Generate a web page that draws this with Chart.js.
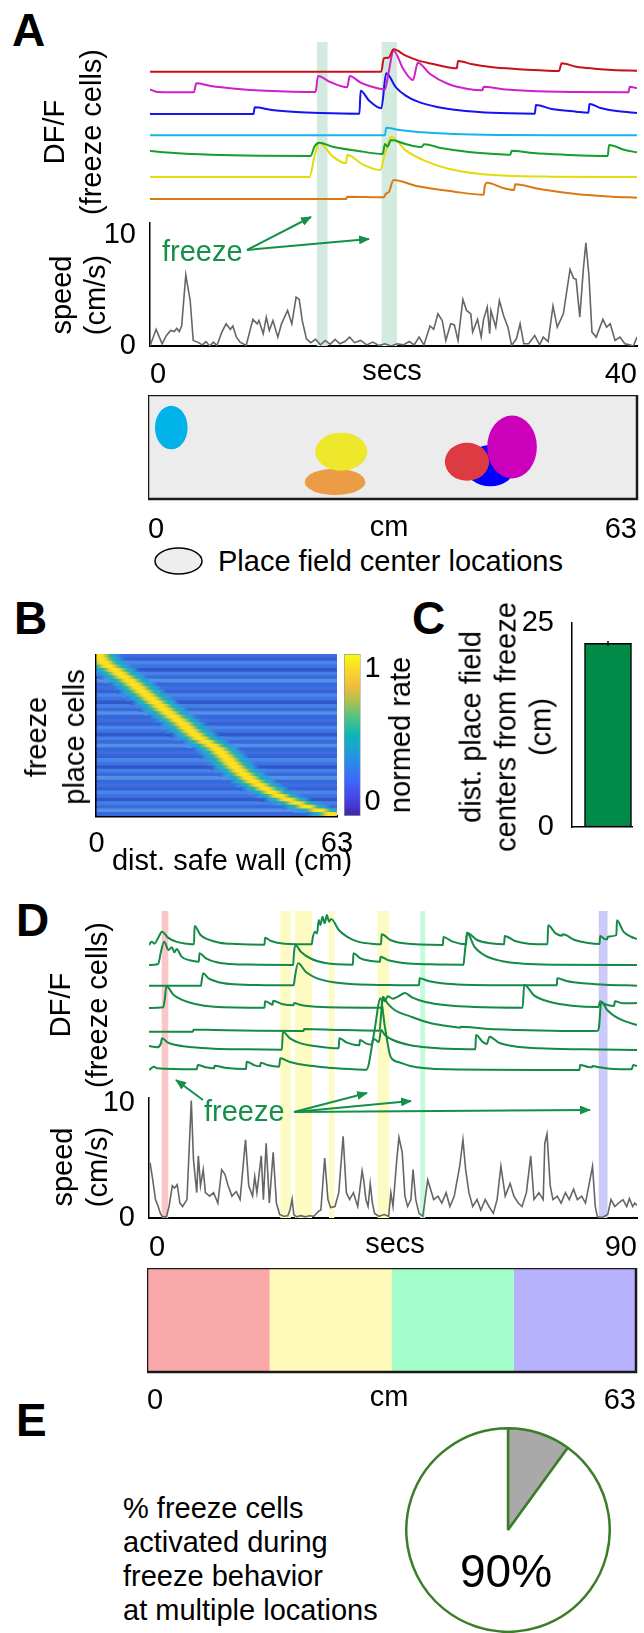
<!DOCTYPE html>
<html>
<head>
<meta charset="utf-8">
<script src="https://cdn.jsdelivr.net/npm/chart.js@4.4.0/dist/chart.umd.min.js"></script>
<style>
  html, body { margin: 0; padding: 0; background: #fff; }
  #page { position: relative; width: 644px; height: 1633px; overflow: hidden;
          font-family: "Liberation Sans", Arial, sans-serif; color: #000; }
  canvas { position: absolute; z-index: 1; }
  .t { position: absolute; z-index: 3; white-space: nowrap; font-size: 29px; line-height: 29px; }
  .c { transform: translateX(-50%); }
  .letter { position: absolute; z-index: 3; font-weight: bold; font-size: 46px; line-height: 46px; }
  .v { position: absolute; z-index: 3; white-space: nowrap; text-align: center; font-size: 29px;
       transform: translate(-50%, -50%) rotate(-90deg); }
  .green { color: #14904a; }
</style>
</head>
<body>
<div id="page">
  <div class="letter" style="left:12px;top:7px">A</div>
  <div class="letter" style="left:14px;top:595px">B</div>
  <div class="letter" style="left:412px;top:595px">C</div>
  <div class="letter" style="left:16px;top:897px">D</div>
  <div class="letter" style="left:16px;top:1397px">E</div>

  <div class="v" style="left:73px;top:132px;line-height:37px">DF/F<br>(freeze cells)</div>
  <div class="v" style="left:78px;top:295px;line-height:34px">speed<br>(cm/s)</div>
  <div class="t green" style="left:162px;top:237px">freeze</div>
  <div class="t c" style="left:392px;top:356px">secs</div>
  <div class="t c" style="left:389px;top:512px">cm</div>
  <div class="t" style="left:218px;top:547px">Place field center locations</div>

  <div class="v" style="left:55px;top:737px;line-height:38px">freeze<br>place cells</div>
  <div class="v" style="left:400px;top:735px;line-height:34px">normed rate</div>
  <div class="t c" style="left:232px;top:846px">dist. safe wall (cm)</div>
  <div class="v" style="left:506px;top:727px;line-height:35px">dist. place field<br>centers from freeze<br>(cm)</div>

  <div class="v" style="left:79px;top:1005px;line-height:37px">DF/F<br>(freeze cells)</div>
  <div class="v" style="left:80px;top:1167px;line-height:35px">speed<br>(cm/s)</div>
  <div class="t green" style="left:204px;top:1097px">freeze</div>
  <div class="t c" style="left:395px;top:1229px">secs</div>
  <div class="t c" style="left:389px;top:1382px">cm</div>

  <div class="t" style="left:123px;top:1491px;line-height:34px">% freeze cells<br>activated during<br>freeze behavior<br>at multiple locations</div>
  <div class="t c" style="left:506px;top:1548px;font-size:46px;line-height:46px">90%</div>

  <svg width="644" height="1633" style="position:absolute;left:0;top:0;pointer-events:none;z-index:5">
    <defs>
      <marker id="ah" markerWidth="11" markerHeight="9" refX="10" refY="4.5" orient="auto" markerUnits="userSpaceOnUse">
        <path d="M0,0 L11,4.5 L0,9 z" fill="#14904a"/>
      </marker>
    </defs>
    <g stroke="#14904a" stroke-width="2" fill="none" marker-end="url(#ah)">
      <line x1="247" y1="250" x2="311" y2="217"/>
      <line x1="247" y1="250" x2="369" y2="239"/>
      <line x1="203" y1="1100" x2="176" y2="1080"/>
      <line x1="294" y1="1112" x2="367" y2="1093"/>
      <line x1="294" y1="1112" x2="411" y2="1101"/>
      <line x1="294" y1="1112" x2="590" y2="1110"/>
    </g>
    <ellipse cx="178.5" cy="561" rx="23.5" ry="13" fill="#eeeeee" stroke="#000" stroke-width="1.5"/>
  </svg>
</div>

<script>
// ---------- Panel A: DF/F traces and speed (0-40 s) ----------
const freezeStartA = [13.7, 19.0];
const freezeEndA = [14.6, 20.3];
const cellColorsA = ["#c8101c", "#d21ec8", "#1414f0", "#14b4ec", "#14a028", "#e2dc0a", "#dc7814"];

const traceRedA = [[0,0],[19.0,0],[19.2,40],[19.6,42],[20.0,67],[21,48],[22,34],[23.5,21],[25.2,10],[25.3,32],[26.5,22],[28,14],[30,8],[32,4],[33.6,2],[33.8,25],[35,15],[36.5,9],[38,5],[40,3]];
const traceMagentaA = [[0,9],[0.6,1],[3.6,0],[3.8,27],[5,19],[7,11],[9.5,5],[13.6,1],[13.8,49],[14.8,31],[16.2,15],[16.4,49],[17.3,29],[18.3,16],[19.3,9],[19.6,60],[20.0,125],[20.8,70],[21.6,37],[22.0,89],[23,55],[24.5,25],[26,11],[27.3,6],[27.4,17],[29,9],[32,3],[35,1],[39.3,0],[39.4,17],[40,12]];
const traceBlueA = [[0,0],[8.5,0],[8.6,20],[10,12],[12,6],[14,3],[17.2,1],[17.3,70],[18,40],[19.0,17],[19.4,122],[20.2,80],[21,55],[22,37],[23.5,22],[25,13],[27,6],[29.5,2],[31.6,1],[31.7,27],[33,15],[35,7],[36.0,4],[36.1,30],[37,18],[38.5,8],[40,3]];
const traceCyanA = [[0,0],[19.3,0],[19.4,23],[20.5,16],[22,10],[25,4],[29,1],[33,0],[40,0]];
const traceGreenA = [[0,17],[2,11],[5,6],[9,3],[13.2,2],[13.5,30],[13.9,42],[15,30],[17,18],[19.1,8],[19.3,38],[19.5,30],[19.8,50],[21,38],[22.3,29],[22.5,37],[24,25],[26,15],[28,9],[29.6,6],[29.7,18],[31.5,11],[34,6],[37.6,2],[37.7,35],[39,20],[40,13]];
const traceYellowA = [[0,0],[13.1,0],[13.5,60],[13.9,103],[15,62],[16.1,41],[16.2,66],[17.5,37],[18.9,21],[19.3,70],[19.8,121],[21,80],[22.5,50],[24.5,25],[27,10],[30,3],[33,1],[40,0]];
const traceOrangeA = [[0,0],[16.1,0],[16.2,7],[19.2,5],[19.4,17],[19.6,20],[20.0,57],[22,38],[25,22],[27.4,13],[27.5,40],[27.7,49],[29.0,33],[29.9,27],[30.0,44],[32,30],[35,15],[38,7],[40,4]];
const tracesA = [traceRedA, traceMagentaA, traceBlueA, traceCyanA, traceGreenA, traceYellowA, traceOrangeA];

const speedA = [[0,0],[0.5,1.5],[1.0,0.2],[1.35,0.95],[1.7,1.4],[2.0,1.3],[2.2,1.6],[2.4,1.3],[2.6,1.8],[2.94,6.4],[3.3,4.1],[3.55,0.5],[3.9,0.35],[4.3,0.1],[4.6,0.4],[4.9,0.0],[5.2,0.35],[5.5,0.05],[5.9,1.25],[6.25,2.0],[6.6,1.5],[6.8,1.8],[7.1,0.8],[7.4,0.35],[7.9,0.05],[8.45,2.4],[8.8,2.0],[8.95,2.3],[9.3,1.1],[9.55,2.6],[9.8,1.4],[10.1,2.3],[10.5,0.8],[10.8,2.0],[11.3,3.2],[11.65,2.0],[12.0,4.4],[12.26,4.2],[12.5,2.3],[12.85,0.65],[13.2,0.3],[13.6,0.6],[14.0,0.1],[14.4,0.5],[14.8,0.15],[15.2,0.6],[15.6,0.2],[16.0,0.4],[16.4,0.8],[16.8,0.3],[17.3,0.5],[17.8,0.1],[18.3,0.35],[18.8,0.05],[19.3,0.2],[19.8,0.0],[20.3,0.2],[20.8,0.1],[21.3,0.4],[21.7,0.1],[22.1,0.8],[22.5,0.1],[23.0,1.8],[23.3,1.5],[23.65,2.9],[24.0,2.3],[24.3,0.5],[24.7,2.0],[25.0,1.9],[25.3,0.5],[25.7,4.2],[26.0,3.2],[26.35,2.9],[26.5,1.25],[26.9,2.4],[27.2,0.8],[27.4,2.4],[27.7,3.5],[27.9,1.1],[28.0,3.2],[28.4,1.7],[28.7,4.1],[29.05,2.7],[29.4,1.7],[29.7,0.05],[30.1,0.65],[30.4,2.0],[30.7,0.2],[31.1,0.2],[31.6,0.95],[32.0,0.1],[32.3,0.8],[32.7,0.4],[33.1,3.6],[33.45,1.7],[33.95,2.9],[34.5,6.9],[34.8,6.1],[35.0,6.0],[35.3,2.6],[35.6,7.0],[35.8,9.3],[36.05,6.4],[36.3,1.25],[36.65,0.8],[37.2,2.4],[37.5,1.7],[37.8,2.0],[38.2,0.5],[38.6,0.8],[39.0,0.2],[39.4,0.1],[39.7,0.0],[40,0.8]];

// place field centres (cm) and sizes, in the 63 cm arena
const fieldX = [3.0, 24.1, 24.9, 44.1, 41.1, 46.9];
const fieldY = [9.2, 2.2, 6.1, 4.3, 4.8, 6.7];
const fieldRX = [2.1, 3.9, 3.35, 3.3, 2.85, 3.2];
const fieldRY = [2.8, 1.7, 2.45, 2.65, 2.45, 4.05];
const fieldColors = ["#00b2e8", "#eb9c44", "#eee82c", "#0000ff", "#de3a42", "#cc00bb"];

// ---------- Panel B: freeze place cells sorted by field peak (cm) ----------
const fieldPeakB = [0.5,1.0,2.0,3.2,4.8,6.0,7.2,8.6,9.8,10.9,12.0,13.1,14.2,15.4,16.6,17.7,18.9,20.1,21.4,22.6,23.6,24.6,25.8,27.0,28.6,30.2,31.6,32.6,33.6,34.5,35.4,36.3,37.4,38.6,39.8,41.1,42.6,44.2,45.9,47.8,50.0,52.4,55.0,58.2,61.5];

// ---------- Panel C ----------
const distLabels = ["freeze cells"];
const distMean = [22.5];
const distSem = [0.3];

// ---------- Panel D: DF/F traces and speed (0-90 s) ----------
const freezeStartD = [2.3, 24.2, 26.9, 33.2, 42.1, 50.0, 82.9];
const freezeEndD = [3.6, 26.2, 30.1, 34.2, 44.3, 51.0, 84.6];
const freezeZoneD = [0, 1, 1, 1, 1, 2, 3];
const zoneEdges = [0, 15.75, 31.5, 47.25, 63];

const traceD1 = [[0,0],[0.5,10],[1.0,4],[1.7,22],[2.4,40],[3.5,22],[5,10],[7,4],[8.3,2],[8.4,57],[9.5,30],[11,16],[13,7],[16,3],[21.3,1],[21.4,22],[22.5,12],[25,4],[30.0,2],[30.2,22],[30.6,40],[31,35],[31.3,75],[31.6,60],[32,85],[32.4,65],[32.8,90],[33.2,70],[33.6,78],[35,45],[36.5,25],[38.5,10],[41,4],[42.8,2],[42.9,32],[44.5,15],[47,5],[54.2,0],[54.3,24],[56,10],[58.5,2],[58.6,37],[60.5,15],[63,5],[65.5,2],[65.6,27],[67.5,12],[70,4],[73.5,2],[73.6,59],[75,35],[76.2,28],[76.3,32],[78.5,15],[81,6],[83.1,3],[83.2,27],[84,18],[84.5,17],[84.6,25],[86.2,30],[86.3,74],[87.5,40],[89,24],[90,18]];
const traceD2 = [[0,0],[1.7,3],[2.2,40],[2.8,70],[3.6,45],[4.2,53],[4.7,38],[5.1,48],[6,25],[7.5,14],[9.2,10],[9.3,35],[10.5,20],[12.5,8],[15,3],[20,1],[26.6,0],[26.7,30],[27.0,60],[28,40],[30,18],[32.5,6],[37.6,1],[37.7,35],[39,20],[41,12],[42.6,10],[42.7,25],[44,15],[47,6],[52,2],[58.0,1],[58.2,30],[58.7,95],[60,55],[62,28],[65,12],[69,4],[75,1],[90,0]];
const traceD3 = [[0,0],[9.6,0],[9.7,12],[10.0,37],[11,22],[12.5,12],[15,5],[20,2],[26.7,1],[26.9,25],[27.5,67],[29,40],[31,22],[34,10],[38,4],[44,2],[49.8,1],[49.9,22],[51.5,14],[54,7],[58,3],[75.2,1],[75.3,22],[77,14],[80,7],[84,3],[90,0]];
const traceD4 = [[0,0],[2.6,2],[2.9,25],[3.2,65],[4.5,40],[6,25],[8.5,12],[12,4],[21.3,1],[21.4,20],[22.5,12],[22.8,10],[22.9,22],[24.5,12],[26.6,8],[26.8,15],[28,9],[32,3],[42.9,1],[43.1,30],[43.5,20],[44,35],[45,28],[45.3,30],[46,35],[47.2,45],[48.5,32],[51,18],[55,8],[60,3],[68.9,1],[69.2,70],[71,38],[74,18],[78,7],[82.9,3],[83.2,20],[84,12],[85.8,6],[85.9,20],[87.5,14],[90,15]];
const traceD5 = [[0,0],[8.1,0],[8.2,6],[12,5],[20,3],[28.5,2],[28.6,8],[35,5],[42.5,3],[42.8,50],[43.1,105],[44,85],[45.3,65],[48.3,45],[52,25],[55,17],[57.4,12],[57.5,15],[62,9],[70,4],[78,2],[82.8,3],[83.0,15],[83.4,90],[84.5,65],[86,45],[88,30],[90,20]];
const traceD6 = [[0,12],[1.5,8],[2.2,20],[2.4,35],[3.5,22],[5,15],[8,8],[12,4],[18,2],[24.5,1],[24.7,55],[26,35],[28,20],[30.5,12],[35.0,5],[35.1,35],[36.5,22],[38.8,14],[38.9,30],[40,20],[41.1,16],[41.3,30],[41.6,32],[42.4,24],[42.8,60],[43.5,45],[45,30],[48,15],[52,7],[57,3],[60.2,2],[60.3,45],[61.5,25],[62.3,18],[62.8,40],[64.5,22],[67,12],[72,5],[80,2],[90,0]];
const traceD7 = [[0,0],[0.9,10],[1.5,5],[8.8,2],[9.0,15],[10.5,8],[12.0,5],[12.1,13],[14,7],[17.9,3],[18.0,25],[19.5,14],[20.5,11],[20.6,22],[22,14],[24.0,10],[24.2,35],[26,24],[29,14],[33,7],[37,3],[40.1,1],[41.5,110],[42.7,215],[43.5,130],[44.6,38],[46,24],[48,13],[51,5],[55,2],[79.4,0],[79.5,15],[81,9],[81.7,8],[81.8,12],[83,8],[85,4],[89.0,2],[89.3,15],[90,12]];
const tracesD = [traceD1, traceD2, traceD3, traceD4, traceD5, traceD6, traceD7];

const speedD = [[0.2,4.8],[0.7,3.3],[1.2,1.6],[1.7,1.0],[2.1,0.4],[2.5,0.1],[3.2,0.1],[3.7,1.0],[4.3,2.8],[4.7,2.6],[5.2,2.9],[5.7,1.3],[6.2,1.0],[7.0,1.6],[7.8,10.2],[8.2,5.1],[8.8,2.2],[9.1,5.4],[9.5,2.8],[10.0,4.2],[10.4,2.2],[11.2,1.9],[11.9,2.2],[12.7,1.3],[13.4,4.2],[14.0,3.8],[14.6,2.8],[15.3,1.9],[16.1,2.3],[16.8,1.6],[17.8,6.8],[18.4,2.8],[19.1,1.9],[19.5,3.6],[19.9,2.2],[20.7,5.4],[21.1,1.6],[21.6,6.5],[22.2,1.3],[22.9,5.7],[23.5,1.3],[24.1,0.3],[24.8,0.15],[25.6,0.2],[26.0,0.7],[26.4,1.65],[26.7,0.3],[27.2,0.1],[28.0,0.2],[28.8,0.1],[29.6,0.2],[30.4,0.15],[31.3,0.6],[31.7,0.7],[32.4,5.2],[33.0,1.6],[33.5,0.9],[34.3,1.0],[35.0,2.2],[35.8,7.1],[36.4,2.2],[37.0,1.6],[37.7,2.2],[38.5,1.0],[39.3,4.1],[39.6,3.3],[40.0,1.6],[40.4,1.0],[40.8,3.0],[41.2,1.3],[41.6,0.4],[42.4,0.15],[43.4,0.3],[44.2,0.15],[44.6,2.2],[45.0,1.0],[45.7,5.1],[46.1,7.0],[46.7,5.7],[47.2,1.9],[47.7,1.0],[48.3,1.6],[48.7,4.2],[49.2,1.6],[49.8,0.4],[50.5,0.15],[51.4,3.3],[52.0,2.4],[52.5,1.6],[53.3,1.9],[54.0,1.3],[54.8,2.2],[55.5,1.0],[56.3,1.9],[57.3,4.5],[57.9,6.8],[58.4,4.2],[59.0,2.2],[59.7,1.0],[60.5,1.6],[61.2,0.7],[62.0,1.6],[62.7,1.0],[63.5,0.4],[64.2,1.6],[64.9,4.5],[65.7,1.9],[66.6,3.0],[67.3,1.9],[68.1,1.3],[68.8,1.0],[69.6,2.2],[70.4,5.4],[71.0,1.6],[71.9,2.2],[72.7,1.6],[73.0,6.5],[73.4,7.3],[74.0,2.8],[74.5,1.6],[75.3,1.9],[76.0,1.3],[76.8,2.2],[77.5,1.6],[78.3,2.5],[79.0,1.6],[79.8,1.9],[80.5,1.3],[81.8,4.5],[82.3,1.0],[82.7,0.1],[83.6,0.05],[84.6,0.3],[85.2,1.6],[85.9,1.0],[86.6,1.3],[87.4,1.6],[88.1,1.0],[88.6,1.7],[89.2,1.0],[89.6,1.3],[90,1.1]];

// ---------- Panel E ----------
const pieLabels = ["one location", "multiple locations"];
const pieValues = [10, 90];

// ---------- layout / style ----------
const traceOffsetA = [382, 320, 255, 191, 127, 66, 0];
const traceOffsetD = [375, 315, 253, 186, 115, 60, 0];
const zoneColors = ["#f9a9a9", "#fefbba", "#a3fdcb", "#b6b1fa"];
const bandColorsD = ["#fac6c6", "#fdfbc2", "#c5fadf", "#cbcaf8"];
const rowShades = ["#3b6ee0", "#3563d6", "#4a85e9", "#3d73e2", "#2f58c8", "#4680e6", "#3a6bdc", "#5290ea", "#3767da"];
const parula = [[0,"#3e26a8"],[0.1,"#4743e0"],[0.2,"#4062f9"],[0.3,"#2f82f0"],[0.4,"#1e9ed6"],[0.5,"#0fb5b8"],[0.6,"#48c389"],[0.7,"#a6c152"],[0.8,"#f3bb3c"],[0.9,"#f8d82b"],[1,"#f9fb0e"]];
const fieldStops = [[0.15,"#2a9fd9"],[0.25,"#22b2b4"],[0.32,"#7cc35e"],[0.38,"#e8c93c"],[0.45,"#f9e41f"],[0.55,"#f9e41f"],[0.62,"#e8c93c"],[0.68,"#7cc35e"],[0.75,"#22b2b4"],[0.85,"#2a9fd9"]];
const traceGreenD = "#148a46";

Chart.defaults.font.family = "'Liberation Sans', Arial, sans-serif";
Chart.defaults.font.size = 29;
Chart.defaults.color = "#000";
Chart.defaults.animation = false;
Chart.defaults.responsive = false;
Chart.defaults.plugins.legend.display = false;
Chart.defaults.plugins.tooltip.enabled = false;
Chart.defaults.elements.point.radius = 0;

const page = document.getElementById("page");

function makeCanvas(left, top, w, h) {
  const c = document.createElement("canvas");
  c.width = w; c.height = h;
  c.style.left = left + "px"; c.style.top = top + "px";
  c.style.width = w + "px"; c.style.height = h + "px";
  page.appendChild(c);
  return c.getContext("2d");
}

// axis helpers
const onlyTicks = vals => s => { s.ticks = vals.map(v => ({ value: v })); };
const noPad = s => { s.paddingTop = 0; s.paddingBottom = 0; s.paddingLeft = 0; s.paddingRight = 0; };
const fixW = w => s => { s.width = w; noPad(s); };
const fixH = h => s => { s.height = h; noPad(s); };

function bandSets(starts, ends, colorOf, top) {
  return starts.map((s, i) => ({
    type: "line",
    data: [{ x: s, y: top }, { x: ends[i], y: top }],
    borderWidth: 0, backgroundColor: colorOf(i), fill: "start", tension: 0, order: 10
  }));
}

function traceSet(points, offset, color, width) {
  return {
    type: "line",
    data: points.map(p => ({ x: p[0], y: p[1] + offset })),
    borderColor: color, borderWidth: width, fill: false,
    cubicInterpolationMode: "monotone", order: 1
  };
}

// fills / outlines the plot area
const boxPlugin = {
  id: "areaBox",
  beforeDatasetsDraw(chart, args, opts) {
    if (!opts.fill) return;
    const a = chart.chartArea, ctx = chart.ctx;
    ctx.save(); ctx.fillStyle = opts.fill; ctx.fillRect(a.left, a.top, a.width, a.height); ctx.restore();
  },
  afterDraw(chart, args, opts) {
    if (!opts.stroke) return;
    const a = chart.chartArea, ctx = chart.ctx;
    ctx.save(); ctx.strokeStyle = opts.stroke; ctx.lineWidth = opts.width || 2;
    ctx.strokeRect(a.left, a.top, a.width, a.height); ctx.restore();
  }
};

// place fields as ellipses in data units
const fieldPlugin = {
  id: "fields",
  afterDatasetsDraw(chart) {
    const { ctx, scales: { x, y } } = chart;
    ctx.save();
    fieldX.forEach((fx, i) => {
      const cx = x.getPixelForValue(fx), cy = y.getPixelForValue(fieldY[i]);
      const rx = x.getPixelForValue(fx + fieldRX[i]) - cx;
      const ry = cy - y.getPixelForValue(fieldY[i] + fieldRY[i]);
      ctx.beginPath();
      ctx.ellipse(cx, cy, rx, ry, 0, 0, Math.PI * 2);
      ctx.fillStyle = fieldColors[i];
      ctx.fill();
    });
    ctx.restore();
  }
};

// ---- A: traces ----
const yTopA = 471;
new Chart(makeCanvas(150, 42, 487, 181), {
  type: "line",
  data: {
    datasets: [
      ...bandSets(freezeStartA, freezeEndA, () => "#d3ebdf", yTopA),
      ...tracesA.map((tr, i) => traceSet(tr, traceOffsetA[i], cellColorsA[i], 2))
    ]
  },
  options: {
    layout: { padding: 0 },
    scales: {
      x: { type: "linear", min: 0, max: 40, display: false },
      y: { min: -72, max: yTopA, display: false }
    }
  }
});

// ---- A: speed ----
const speedMaxA = 11.08;
new Chart(makeCanvas(100, 205, 544, 181), {
  type: "line",
  data: {
    datasets: [
      ...bandSets(freezeStartA, freezeEndA, () => "#d3ebdf", speedMaxA),
      { data: speedA.map(p => ({ x: p[0], y: p[1] })), borderColor: "#666", borderWidth: 1.6, tension: 0, order: 1 }
    ]
  },
  options: {
    layout: { padding: { top: 18, right: 7, left: 0, bottom: 0 } },
    scales: {
      x: { type: "linear", min: 0, max: 40, grid: { display: false },
           border: { display: true, color: "#000", width: 2 },
           ticks: { padding: 4, align: "inner", maxRotation: 0 },
           afterBuildTicks: onlyTicks([0, 40]), afterFit: fixH(40) },
      y: { min: 0, max: speedMaxA, grid: { display: false },
           border: { display: true, color: "#000", width: 1.5 },
           ticks: { padding: 6 }, afterBuildTicks: onlyTicks([0, 10]), afterFit: fixW(50) }
    }
  }
});

// ---- A: place field centre locations ----
new Chart(makeCanvas(148, 395, 496, 150), {
  type: "scatter",
  data: { datasets: [{ data: fieldX.map((x, i) => ({ x, y: fieldY[i] })), pointRadius: 0 }] },
  options: {
    layout: { padding: { right: 7 } },
    scales: {
      x: { type: "linear", min: 0, max: 63, grid: { display: false }, border: { display: false },
           ticks: { padding: 6, align: "inner", maxRotation: 0 },
           afterBuildTicks: onlyTicks([0, 63]), afterFit: fixH(46) },
      y: { min: 0, max: 13.4, display: false }
    },
    plugins: { areaBox: { fill: "#ececec", stroke: "#1a1a1a", width: 2.5 } }
  },
  plugins: [boxPlugin, fieldPlugin]
});

// ---- B: heatmap (rows = cells, field peak along the track) ----
const fieldHalf = 6.5;
new Chart(makeCanvas(60, 654, 300, 202), {
  type: "bar",
  data: {
    labels: fieldPeakB.map((_, i) => i + 1),
    datasets: [
      { data: fieldPeakB.map(() => [0, 63]), backgroundColor: fieldPeakB.map((_, i) => rowShades[i % rowShades.length]),
        grouped: false, barPercentage: 1, categoryPercentage: 1, order: 2 },
      { data: fieldPeakB.map(c => [c - fieldHalf, c + fieldHalf]),
        grouped: false, barPercentage: 1, categoryPercentage: 1, order: 1,
        backgroundColor: ctx => {
          const chart = ctx.chart;
          if (!chart.chartArea) return "#f9e41f";
          const c = fieldPeakB[ctx.dataIndex];
          const base = rowShades[ctx.dataIndex % rowShades.length];
          const x0 = chart.scales.x.getPixelForValue(c - fieldHalf);
          const x1 = chart.scales.x.getPixelForValue(c + fieldHalf);
          const g = chart.ctx.createLinearGradient(x0, 0, x1, 0);
          g.addColorStop(0, base);
          fieldStops.forEach(([p, col]) => g.addColorStop(p, col));
          g.addColorStop(1, base);
          return g;
        } }
    ]
  },
  options: {
    indexAxis: "y",
    layout: { padding: { left: 36.5, right: 23 } },
    scales: {
      x: { type: "linear", min: 0, max: 63, grid: { display: false },
           border: { display: true, color: "#000", width: 2.5 },
           ticks: { padding: 3, maxRotation: 0 }, afterBuildTicks: onlyTicks([0, 63]), afterFit: fixH(40) },
      y: { display: true, grid: { display: false }, ticks: { display: false },
           border: { display: true, color: "#000", width: 2.5 }, afterFit: fixW(0) }
    }
  }
});

// ---- B: colour bar (mirrored tick labels so they are not clipped) ----
new Chart(makeCanvas(340, 640, 60, 190), {
  type: "bar",
  data: {
    labels: ["normed rate"],
    datasets: [{
      data: [[0, 1]], barPercentage: 1, categoryPercentage: 1,
      borderColor: "#999", borderWidth: 1, borderSkipped: false,
      backgroundColor: ctx => {
        const a = ctx.chart.chartArea;
        if (!a) return "#3e26a8";
        const g = ctx.chart.ctx.createLinearGradient(0, a.bottom, 0, a.top);
        parula.forEach(([p, c]) => g.addColorStop(p, c));
        return g;
      }
    }]
  },
  options: {
    layout: { padding: { left: 4, right: 39.4, top: 14, bottom: 14 } },
    scales: {
      x: { display: false },
      y: { position: "right", min: 0, max: 1, grid: { display: false }, border: { display: false },
           ticks: { mirror: true, padding: 20, align: "start", crossAlign: "near" },
           afterBuildTicks: onlyTicks([1]), afterFit: fixW(0) },
      y2: { position: "right", min: 0, max: 1, grid: { display: false }, border: { display: false },
            ticks: { mirror: true, padding: 20, align: "end", crossAlign: "near" },
            afterBuildTicks: onlyTicks([0]), afterFit: fixW(0) }
    }
  }
});

// ---- C: distance bar ----
const barSlot = 0.6;
new Chart(makeCanvas(520, 600, 124, 250), {
  type: "bar",
  data: {
    datasets: [
      { type: "bar", label: distLabels[0], data: distMean.map(v => ({ x: barSlot, y: v })),
        backgroundColor: "#008c48", borderColor: "#000", borderWidth: 1.5, borderSkipped: false,
        barThickness: 47, order: 2 },
      { type: "line", data: [{ x: barSlot, y: distMean[0] - distSem[0] }, { x: barSlot, y: distMean[0] + distSem[0] }],
        borderColor: "#000", borderWidth: 1.5, order: 1 }
    ]
  },
  options: {
    layout: { padding: { top: 23, right: 12, bottom: 23 } },
    scales: {
      x: { type: "linear", min: 0, max: 1, offset: false, grid: { display: false },
           ticks: { display: false }, border: { display: true, color: "#000", width: 1.5 }, afterFit: fixH(0) },
      y: { min: 0, max: 25, grid: { display: false }, border: { display: true, color: "#000", width: 1.5 },
           ticks: { padding: 10 }, afterBuildTicks: onlyTicks([0, 25]), afterFit: fixW(52) }
    }
  }
});

// ---- D: traces ----
const yTopD = 477;
new Chart(makeCanvas(149, 911, 488, 187), {
  type: "line",
  data: {
    datasets: [
      ...bandSets(freezeStartD, freezeEndD, i => bandColorsD[freezeZoneD[i]], yTopD),
      ...tracesD.map((tr, i) => traceSet(tr, traceOffsetD[i], traceGreenD, 2))
    ]
  },
  options: {
    scales: {
      x: { type: "linear", min: 0, max: 90, display: false },
      y: { min: -84, max: yTopD, display: false }
    }
  }
});

// ---- D: speed ----
const speedMaxD = 10.43;
new Chart(makeCanvas(99, 1080, 545, 178), {
  type: "line",
  data: {
    datasets: [
      ...bandSets(freezeStartD, freezeEndD, i => bandColorsD[freezeZoneD[i]], speedMaxD),
      { data: speedD.map(p => ({ x: p[0], y: p[1] })), borderColor: "#666", borderWidth: 1.6, tension: 0, order: 1 }
    ]
  },
  options: {
    layout: { padding: { top: 18, right: 7 } },
    scales: {
      x: { type: "linear", min: 0, max: 90, grid: { display: false },
           border: { display: true, color: "#000", width: 2 },
           ticks: { padding: 4.6, align: "inner", maxRotation: 0 },
           afterBuildTicks: onlyTicks([0, 90]), afterFit: fixH(40) },
      y: { min: 0, max: speedMaxD, grid: { display: false },
           border: { display: true, color: "#000", width: 1.5 },
           ticks: { padding: 6 }, afterBuildTicks: onlyTicks([0, 10]), afterFit: fixW(50) }
    }
  }
});

// ---- D: track zones ----
new Chart(makeCanvas(147, 1268, 497, 150), {
  type: "bar",
  data: {
    labels: ["track"],
    datasets: zoneColors.map((col, i) => ({
      data: [[zoneEdges[i], zoneEdges[i + 1]]], backgroundColor: col,
      grouped: false, barPercentage: 1, categoryPercentage: 1
    }))
  },
  options: {
    indexAxis: "y",
    layout: { padding: { right: 8 } },
    scales: {
      x: { type: "linear", min: 0, max: 63, grid: { display: false }, border: { display: false },
           ticks: { padding: 3.6, align: "inner", maxRotation: 0 },
           afterBuildTicks: onlyTicks([0, 63]), afterFit: fixH(46) },
      y: { display: false }
    },
    plugins: { areaBox: { stroke: "#1a1a1a", width: 2.5 } }
  },
  plugins: [boxPlugin]
});

// ---- E: pie ----
new Chart(makeCanvas(405, 1427, 206, 206), {
  type: "pie",
  data: {
    labels: pieLabels,
    datasets: [{ data: pieValues, backgroundColor: ["#a9a9a9", "#ffffff"], borderColor: "#3c7d2c", borderWidth: 2.5 }]
  },
  options: { layout: { padding: 0 } }
});
</script>
</body>
</html>
